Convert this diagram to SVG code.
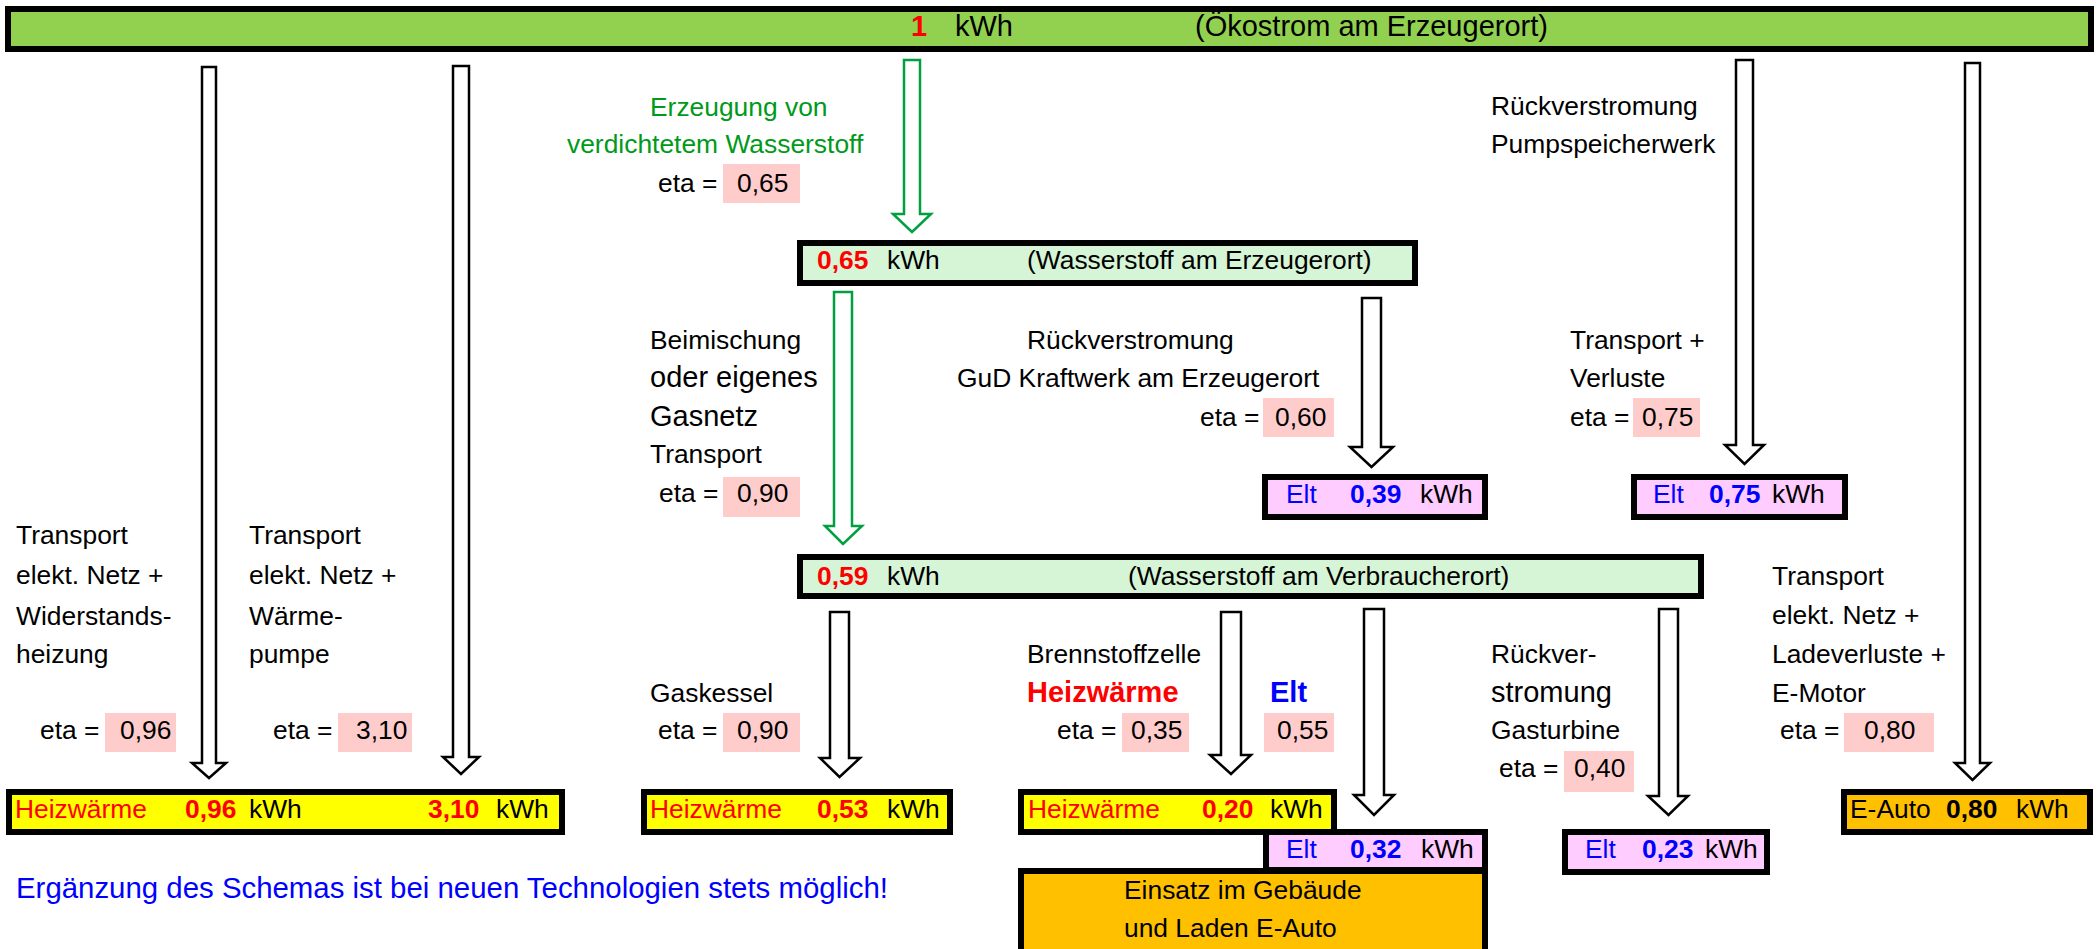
<svg xmlns="http://www.w3.org/2000/svg" width="2098" height="949" viewBox="0 0 2098 949">
<style>
text{font-family:"Liberation Sans",Arial,sans-serif;font-size:26.4px;fill:#000}
.b{font-weight:bold}
.r{fill:#FF0000}
.bl{fill:#0000FF}
.g{fill:#009A1A}
.big{font-size:29px}
.foot{font-size:29.4px}
.box{stroke:#000;stroke-width:6}
.top{fill:#92D050}
.lg{fill:#D6F5D6}
.pk{fill:#FFCCFF}
.ye{fill:#FFFF00}
.or{fill:#FFC000}
.eta{fill:#FFCCCC}
.arr{fill:#fff;stroke:#000;stroke-width:2.5;stroke-linejoin:miter}
.garr{fill:#fff;stroke:#00A040;stroke-width:2.5}
</style>

<g id="connectors">
<path class="arr" d="M202 67H216V763H226L209 778L192 763H202Z"/>
<path class="arr" d="M453 66H469V757H479L461 774L443 757H453Z"/>
<path class="garr" d="M904 60H920V214H931L912 232L893 214H904Z"/>
<path class="garr" d="M834 292H852V526H862L843 544L825 526H834Z"/>
<path class="arr" d="M1362 298H1381V447H1393L1371.5 467L1350 447H1362Z"/>
<path class="arr" d="M1736 60H1753V445H1764L1744.5 464L1725 445H1736Z"/>
<path class="arr" d="M1965 63H1980V763H1990L1972.5 780L1955 763H1965Z"/>
<path class="arr" d="M830 612H849V758H860L839.5 777L820 758H830Z"/>
<path class="arr" d="M1221 612H1241V755H1251L1231 774L1210 755H1221Z"/>
<path class="arr" d="M1364 609H1384V795H1394L1374 815L1354 795H1364Z"/>
<path class="arr" d="M1659 609H1678V796H1688L1668.5 815L1648 796H1659Z"/>
</g>

<g id="oekostrom">
<rect class="box top" x="8" y="9" width="2083" height="40"/>
<text class="b r big" x="911" y="36">1</text>
<text class="big" x="955" y="36">kWh</text>
<text class="big" x="1195" y="36">(Ökostrom am Erzeugerort)</text>
</g>

<g id="h2-erzeugerort">
<rect class="box lg" x="800" y="243" width="615" height="40"/>
<text class="b r" x="817" y="269">0,65</text>
<text x="887" y="269">kWh</text>
<text x="1027" y="269">(Wasserstoff am Erzeugerort)</text>
</g>

<g id="h2-verbraucherort">
<rect class="box lg" x="800" y="557" width="901" height="39"/>
<text class="b r" x="817" y="585">0,59</text>
<text x="887" y="585">kWh</text>
<text x="1128" y="585">(Wasserstoff am Verbraucherort)</text>
</g>

<g id="elt-039">
<rect class="box pk" x="1265" y="477" width="220" height="40"/>
<text class="bl" x="1286" y="503">Elt</text>
<text class="b bl" x="1350" y="503">0,39</text>
<text x="1420" y="503">kWh</text>
</g>

<g id="elt-075">
<rect class="box pk" x="1634" y="477" width="211" height="40"/>
<text class="bl" x="1653" y="503">Elt</text>
<text class="b bl" x="1709" y="503">0,75</text>
<text x="1772" y="503">kWh</text>
</g>

<g id="heiz-096-310">
<rect class="box ye" x="9" y="792" width="553" height="40"/>
<text class="r" x="15" y="818">Heizwärme</text>
<text class="b r" x="185" y="818">0,96</text>
<text x="249" y="818">kWh</text>
<text class="b r" x="428" y="818">3,10</text>
<text x="496" y="818">kWh</text>
</g>

<g id="heiz-053">
<rect class="box ye" x="644" y="792" width="306" height="40"/>
<text class="r" x="650" y="818">Heizwärme</text>
<text class="b r" x="817" y="818">0,53</text>
<text x="887" y="818">kWh</text>
</g>

<g id="elt-032">
<rect class="box pk" x="1266" y="832" width="219" height="38"/>
<text class="bl" x="1286" y="858">Elt</text>
<text class="b bl" x="1350" y="858">0,32</text>
<text x="1421" y="858">kWh</text>
</g>

<g id="heiz-020">
<rect class="box ye" x="1021" y="792" width="313" height="40"/>
<text class="r" x="1028" y="818">Heizwärme</text>
<text class="b r" x="1202" y="818">0,20</text>
<text x="1270" y="818">kWh</text>
</g>

<g id="einsatz">
<rect class="box or" x="1021" y="871" width="464" height="90"/>
<text x="1124" y="899">Einsatz im Gebäude</text>
<text x="1124" y="937">und Laden E-Auto</text>
</g>

<g id="elt-023">
<rect class="box pk" x="1565" y="832" width="202" height="40"/>
<text class="bl" x="1585" y="858">Elt</text>
<text class="b bl" x="1642" y="858">0,23</text>
<text x="1705" y="858">kWh</text>
</g>

<g id="eauto">
<rect class="box or" x="1844" y="792" width="246" height="40"/>
<text x="1850" y="818">E-Auto</text>
<text class="b" x="1946" y="818">0,80</text>
<text x="2016" y="818">kWh</text>
</g>

<g id="lbl-erzeugung">
<text class="g" x="650" y="116">Erzeugung von</text>
<text class="g" x="567" y="153">verdichtetem Wasserstoff</text>
<rect class="eta" x="723" y="164" width="77" height="39"/>
<text x="658" y="192">eta =</text>
<text x="737" y="192">0,65</text>
</g>

<g id="lbl-beimischung">
<text x="650" y="349">Beimischung</text>
<text class="big" x="650" y="387">oder eigenes</text>
<text class="big" x="650" y="426">Gasnetz</text>
<text x="650" y="463">Transport</text>
<rect class="eta" x="723" y="477" width="77" height="40"/>
<text x="659" y="502">eta =</text>
<text x="737" y="502">0,90</text>
</g>

<g id="lbl-gud">
<text x="1027" y="349">Rückverstromung</text>
<text x="957" y="387">GuD Kraftwerk am Erzeugerort</text>
<rect class="eta" x="1263" y="398" width="71" height="39"/>
<text x="1200" y="426">eta =</text>
<text x="1275" y="426">0,60</text>
</g>

<g id="lbl-pumpspeicher">
<text x="1491" y="115">Rückverstromung</text>
<text x="1491" y="153">Pumpspeicherwerk</text>
</g>

<g id="lbl-transport-verluste">
<text x="1570" y="349">Transport +</text>
<text x="1570" y="387">Verluste</text>
<rect class="eta" x="1633" y="398" width="67" height="39"/>
<text x="1570" y="426">eta =</text>
<text x="1642" y="426">0,75</text>
</g>

<g id="lbl-widerstand">
<text x="16" y="544">Transport</text>
<text x="16" y="584">elekt. Netz +</text>
<text x="16" y="625">Widerstands-</text>
<text x="16" y="663">heizung</text>
<rect class="eta" x="105" y="713" width="71" height="39"/>
<text x="40" y="739">eta =</text>
<text x="120" y="739">0,96</text>
</g>

<g id="lbl-waermepumpe">
<text x="249" y="544">Transport</text>
<text x="249" y="584">elekt. Netz +</text>
<text x="249" y="625">Wärme-</text>
<text x="249" y="663">pumpe</text>
<rect class="eta" x="338" y="713" width="74" height="39"/>
<text x="273" y="739">eta =</text>
<text x="356" y="739">3,10</text>
</g>

<g id="lbl-gaskessel">
<text x="650" y="702">Gaskessel</text>
<rect class="eta" x="723" y="713" width="77" height="39"/>
<text x="658" y="739">eta =</text>
<text x="737" y="739">0,90</text>
</g>

<g id="lbl-brennstoffzelle">
<text x="1027" y="663">Brennstoffzelle</text>
<text class="b r big" x="1027" y="702">Heizwärme</text>
<text class="b bl big" x="1270" y="702">Elt</text>
<rect class="eta" x="1122" y="713" width="67" height="39"/>
<rect class="eta" x="1264" y="713" width="70" height="39"/>
<text x="1057" y="739">eta =</text>
<text x="1131" y="739">0,35</text>
<text x="1277" y="739">0,55</text>
</g>

<g id="lbl-gasturbine">
<text x="1491" y="663">Rückver-</text>
<text class="big" x="1491" y="702">stromung</text>
<text x="1491" y="739">Gasturbine</text>
<rect class="eta" x="1564" y="751" width="70" height="41"/>
<text x="1499" y="777">eta =</text>
<text x="1574" y="777">0,40</text>
</g>

<g id="lbl-eauto">
<text x="1772" y="585">Transport</text>
<text x="1772" y="624">elekt. Netz +</text>
<text x="1772" y="663">Ladeverluste +</text>
<text x="1772" y="702">E-Motor</text>
<rect class="eta" x="1844" y="713" width="90" height="39"/>
<text x="1780" y="739">eta =</text>
<text x="1864" y="739">0,80</text>
</g>

<g id="footer">
<text class="bl foot" x="16" y="898">Ergänzung des Schemas ist bei neuen Technologien stets möglich!</text>
</g>
</svg>
